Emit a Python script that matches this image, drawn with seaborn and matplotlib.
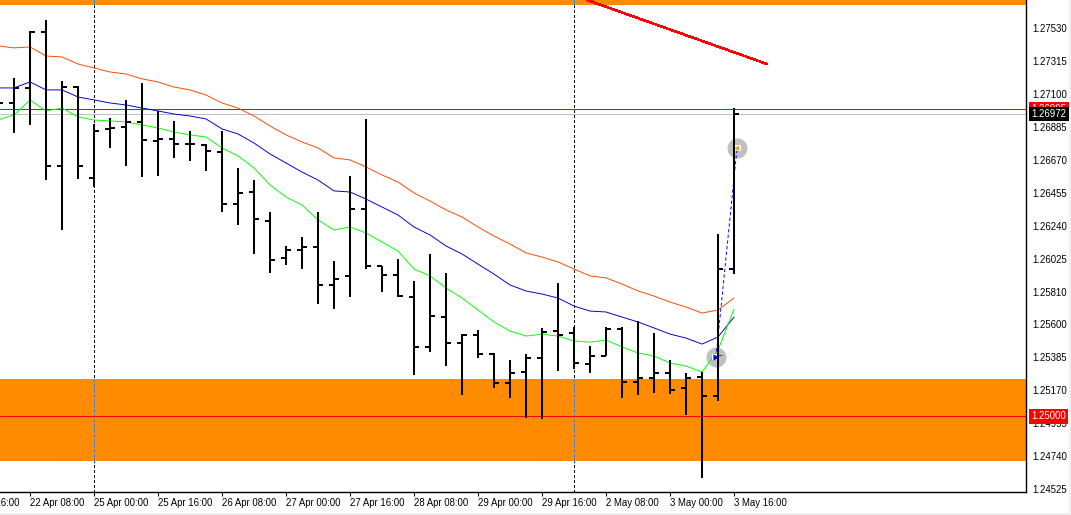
import numpy as np
import pandas as pd
import seaborn as sns
import matplotlib.pyplot as plt
from matplotlib.patches import Rectangle

#
# values (4h bars, first bar is only partly on screen)
#

bar_index = list(range(-1, 46))

open_px = [1.27041, 1.27041, 1.27139, 1.27504, 1.26631, 1.27145, 1.26552, 1.26872, 1.26885, 1.26917, 1.26793, 1.26806,
           1.26774, 1.26767, 1.26722, 1.26383, 1.26461, 1.26272, 1.26031, 1.26083, 1.26103, 1.25855, 1.25914, 1.26350,
           1.25979, 1.25920, 1.25777, 1.25451, 1.25646, 1.25477, 1.25529, 1.25405, 1.25216, 1.25288, 1.25379, 1.25555,
           1.25542, 1.25340, 1.25392, 1.25568, 1.25223, 1.25249, 1.25281, 1.25184, 1.25255, 1.25131, 1.25959]
high_px = [1.27041, 1.27204, 1.27510, 1.27582, 1.27185, 1.27152, 1.26904, 1.26943, 1.27061, 1.27171, 1.26989, 1.26924,
           1.26859, 1.26774, 1.26859, 1.26618, 1.26539, 1.26331, 1.26109, 1.26168, 1.26331, 1.26011, 1.26565, 1.26937,
           1.25979, 1.26024, 1.25881, 1.26057, 1.25933, 1.25535, 1.25561, 1.25412, 1.25366, 1.25405, 1.25575, 1.25868,
           1.25581, 1.25457, 1.25581, 1.25581, 1.25620, 1.25542, 1.25366, 1.25281, 1.25288, 1.26187, 1.27008]
low_px = [1.27041, 1.26846, 1.26898, 1.26539, 1.26213, 1.26546, 1.26494, 1.26748, 1.26631, 1.26559, 1.26565, 1.26683,
          1.26663, 1.26598, 1.26331, 1.26246, 1.26057, 1.25933, 1.25985, 1.25959, 1.25731, 1.25698, 1.25777, 1.25959,
          1.25809, 1.25777, 1.25268, 1.25418, 1.25327, 1.25138, 1.25379, 1.25184, 1.25118, 1.24988, 1.24981, 1.25294,
          1.25307, 1.25281, 1.25392, 1.25118, 1.25138, 1.25151, 1.25144, 1.25007, 1.24597, 1.25099, 1.25926]
close_px = [1.27041, 1.27139, 1.27504, 1.26631, 1.27145, 1.26631, 1.26859, 1.26878, 1.26917, 1.26800, 1.26806, 1.26774,
            1.26774, 1.26728, 1.26383, 1.26455, 1.26285, 1.26018, 1.26083, 1.26103, 1.25855, 1.25894, 1.26350, 1.25979,
            1.25920, 1.25783, 1.25451, 1.25653, 1.25477, 1.25529, 1.25405, 1.25216, 1.25281, 1.25379, 1.25549, 1.25529,
            1.25346, 1.25392, 1.25568, 1.25223, 1.25249, 1.25281, 1.25170, 1.25249, 1.25131, 1.25959, 1.26969]

ma_slow = [1.27413, 1.27400, 1.27406, 1.27347, 1.27341, 1.27295, 1.27269, 1.27243, 1.27230, 1.27198, 1.27178, 1.27145,
           1.27126, 1.27093, 1.27041, 1.27008, 1.26956, 1.26891, 1.26833, 1.26787, 1.26748, 1.26683, 1.26670, 1.26624,
           1.26572, 1.26526, 1.26455, 1.26402, 1.26344, 1.26298, 1.26233, 1.26174, 1.26122, 1.26064, 1.26037, 1.26005,
           1.25959, 1.25914, 1.25901, 1.25861, 1.25816, 1.25783, 1.25744, 1.25711, 1.25672, 1.25692, 1.25770]
ma_mid = [1.27139, 1.27139, 1.27178, 1.27126, 1.27126, 1.27080, 1.27061, 1.27041, 1.27028, 1.27008, 1.26989, 1.26969,
          1.26956, 1.26937, 1.26872, 1.26839, 1.26780, 1.26709, 1.26650, 1.26591, 1.26539, 1.26468, 1.26461, 1.26415,
          1.26363, 1.26311, 1.26233, 1.26181, 1.26109, 1.26057, 1.25991, 1.25926, 1.25855, 1.25816, 1.25796, 1.25770,
          1.25718, 1.25685, 1.25679, 1.25646, 1.25614, 1.25575, 1.25535, 1.25509, 1.25470, 1.25516, 1.25646]
ma_fast = [1.26930, 1.26963, 1.27061, 1.26989, 1.27008, 1.26950, 1.26930, 1.26924, 1.26917, 1.26898, 1.26878, 1.26852,
           1.26833, 1.26819, 1.26748, 1.26696, 1.26618, 1.26507, 1.26428, 1.26376, 1.26279, 1.26213, 1.26233, 1.26194,
           1.26135, 1.26076, 1.25959, 1.25914, 1.25835, 1.25770, 1.25692, 1.25614, 1.25555, 1.25522, 1.25535, 1.25522,
           1.25490, 1.25483, 1.25496, 1.25451, 1.25412, 1.25392, 1.25346, 1.25327, 1.25288, 1.25431, 1.25698]

price_ticks = [1.27530, 1.27315, 1.27100, 1.26885, 1.26670, 1.26455, 1.26240, 1.26025, 1.25810, 1.25600, 1.25385,
               1.25170, 1.24955, 1.24740, 1.24525]
date_ticks = list(range(1, 46, 4))
date_labels = ["22 Apr 08:00", "25 Apr 00:00", "25 Apr 16:00", "26 Apr 08:00", "27 Apr 00:00", "27 Apr 16:00",
               "28 Apr 08:00", "29 Apr 00:00", "29 Apr 16:00", "2 May 08:00", "3 May 00:00", "3 May 16:00"]
clipped_tick, clipped_label = -3, "21 Apr 16:00"

zone_top = (1.27680, 1.27800)
zone_bottom = (1.24708, 1.25242)
level_line = 1.25000
ask_line, ask_label = 1.27002, "1.26995"
bid_line, bid_label = 1.26969, "1.26972"
period_seps = [5, 35]
trend_x = [35.81, 47.06]
trend_y = [1.27712, 1.27295]
trade_x = [43.875, 45.19]
trade_y = [1.25385, 1.26748]

y_limits = (1.24506, 1.27712)
x_limits = (-0.875, 63.25)

#
# style
#

sns.set_theme(style="ticks")
plt.rcParams['font.family'] = ['Liberation Sans', 'DejaVu Sans']
font_size = 6.9
orange = "#ff8c00"
px = 0.72  # one pixel in points at dpi 100

fig = plt.figure(figsize=(10.71, 5.15), dpi=100, facecolor="white")
ax = fig.add_axes([0, 23 / 515, 1026 / 1071, 492 / 515])
ax.set_facecolor("white")

# window frame
fig.add_artist(Rectangle((0, 0), 1, 2 / 515, transform=fig.transFigure, color="#f0f0f0", lw=0))
fig.add_artist(Rectangle((1069 / 1071, 0), 2 / 1071, 1, transform=fig.transFigure, color="#f0f0f0", lw=0))

#
# zones and lines
#

ax.axhspan(*zone_top, color=orange, lw=0, zorder=1)
ax.axhspan(*zone_bottom, color=orange, lw=0, zorder=1)

for sep in period_seps:
    ax.vlines(sep, y_limits[0], y_limits[1], color="black", lw=px, linestyles=(0, (2.5, 2.5)), antialiased=False, zorder=2)
    ax.vlines(sep, zone_bottom[0], zone_bottom[1], color=orange, lw=px * 1.5, zorder=2.1)
    ax.vlines(sep, zone_bottom[0], zone_bottom[1], color="#1e90ff", lw=px, linestyles=(0, (2.5, 2.5)), antialiased=False, zorder=2.2)
    ax.vlines(sep, zone_top[0], zone_top[1], color="#1e90ff", lw=px, zorder=2.2)

ax.axhline(level_line, color="#ff0000", lw=px, zorder=2.5)
ax.axhline(ask_line, color="#ff0000", lw=px, zorder=2.5)
ax.axhline(bid_line, color="#c0c0c0", lw=px, zorder=2.5)
ax.plot(trend_x, trend_y, color="#ff0000", lw=1.5 * px, antialiased=False, zorder=3)

#
# moving averages
#

mas = pd.DataFrame({"bar": bar_index, "slow": ma_slow, "mid": ma_mid, "fast": ma_fast})
mas = mas.melt(id_vars="bar", var_name="ma", value_name="price")
sns.lineplot(data=mas, x="bar", y="price", hue="ma", ax=ax, legend=False, errorbar=None,
             palette={"slow": "#ff4500", "mid": "#0000cd", "fast": "#00ff00"},
             lw=0.95 * px, zorder=4)

#
# trade markers
#

trades = pd.DataFrame({"bar": trade_x, "price": trade_y})
sns.scatterplot(data=trades, x="bar", y="price", ax=ax, s=207, color="#c0c0c0", linewidth=0, zorder=3.5)
ax.plot(trade_x, trade_y, color="#0000ff", lw=0.95 * px, linestyle=(0, (3.5, 2.5)), zorder=4.5)
ax.scatter(trade_x[0] - 0.06, trade_y[0], marker="s", s=22, color="white", linewidth=0, zorder=4.8)
ax.scatter(trade_x[0] - 0.02, trade_y[0], marker=">", s=20, color="#0000ff", linewidth=0, zorder=5)
ax.hlines(trade_y[0] + 0.00013, trade_x[0] + 0.12, trade_x[0] + 0.38, color="#ff0000", lw=px, zorder=7)
ax.scatter(trade_x[1] + 0.03, trade_y[1], marker="s", s=14, color="white", linewidth=0, zorder=4.8)
ax.scatter(trade_x[1] - 0.07, trade_y[1], marker="<", s=16, color="#daa520", linewidth=0, zorder=5)

#
# bars
#

tick = 0.3125
bar_lw = 2 * px
ax.vlines(bar_index, low_px, high_px, color="black", lw=bar_lw, snap=True, antialiased=False, zorder=6)
ax.hlines(open_px, np.array(bar_index) - tick, bar_index, color="black", lw=bar_lw, snap=True, antialiased=False, zorder=6)
ax.hlines(close_px, bar_index, np.array(bar_index) + tick, color="black", lw=bar_lw, snap=True, antialiased=False, zorder=6)

#
# axes
#

ax.set_xlim(*x_limits)
ax.set_ylim(*y_limits)
ax.set_xlabel("")
ax.set_ylabel("")
ax.yaxis.tick_right()
ax.set_yticks(price_ticks, [f"{p:.5f}" for p in price_ticks])
ax.set_xticks(date_ticks, date_labels, ha="left")
ax.tick_params(axis="x", length=3, width=px, color="black", labelsize=font_size, pad=1.5, labelcolor="black")
ax.tick_params(axis="y", length=3, width=px, color="black", labelsize=font_size, pad=1.5, labelcolor="black")
sns.despine(ax=ax, left=True, right=False, top=True)
for side in ["right", "bottom"]:
    ax.spines[side].set_linewidth(1.4 * px)
    ax.spines[side].set_color("black")

# the label of the tick left of the window
ax.annotate(clipped_label, xy=(clipped_tick, 0), xycoords=("data", "axes fraction"), xytext=(-0.7, -4.5),
            textcoords="offset points", ha="left", va="top", fontsize=font_size, color="black")

#
# price labels on the right
#

right_x = 1.0052
ax.text(right_x, level_line, f"{level_line:.5f}", transform=ax.get_yaxis_transform(), va="center", ha="left", zorder=10,
        fontsize=font_size, color="white", clip_on=False,
        bbox=dict(boxstyle="square,pad=0.25", fc="#ff0000", ec="none"))
ax.text(right_x, ask_line, ask_label, transform=ax.get_yaxis_transform(), va="center", ha="left", zorder=10,
        fontsize=font_size, color="white", clip_on=False,
        bbox=dict(boxstyle="square,pad=0.25", fc="#ff0000", ec="none"))
ax.text(right_x, bid_line, bid_label, transform=ax.get_yaxis_transform(), va="center", ha="left", zorder=11,
        fontsize=font_size, color="white", clip_on=False,
        bbox=dict(boxstyle="square,pad=0.25", fc="black", ec="none"))

fig.savefig("out.png", dpi=100)
